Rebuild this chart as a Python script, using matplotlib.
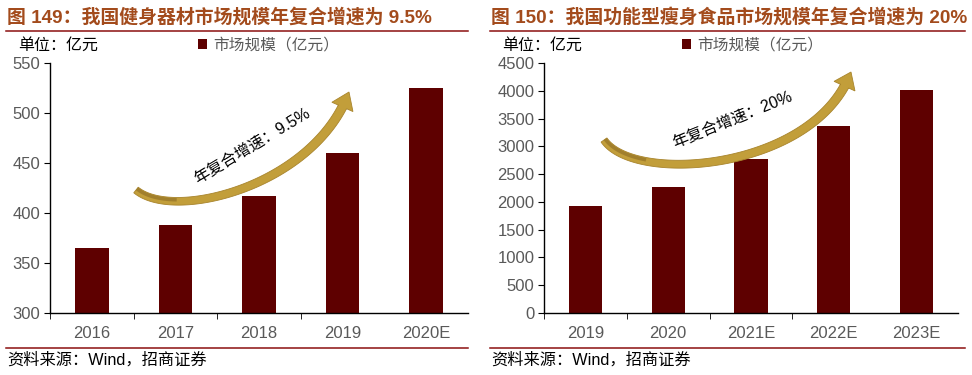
import matplotlib

matplotlib.use("Agg")
from matplotlib import pyplot as plt
from matplotlib.patches import Polygon
import numpy as np

plt.rcParams["font.family"] = ["Liberation Sans", "Noto Sans CJK SC", "DejaVu Sans"]

# data
fitness_years = ["2016", "2017", "2018", "2019", "2020E"]
fitness_size = [365, 388, 417, 460, 525]

diet_years = ["2019", "2020", "2021E", "2022E", "2023E"]
diet_size = [1932, 2274, 2778, 3372, 4020]

W, H = 972, 375
BAR = "#5E0000"
GOLD = "#C29E3A"
GOLD_DARK = "#9C7A2A"
TITLE = "#A34B1C"
RULE = "#8B1010"
GREY = "#595959"

fig = plt.figure(figsize=(W / 100, H / 100), dpi=100)


def fx(px):
    return np.asarray(px) / W


def fy(py):
    return 1 - np.asarray(py) / H


def bezier(pts, t):
    p = np.array(pts, dtype=float)
    t = np.asarray(t)[:, None]
    return ((1 - t) ** 3 * p[0] + 3 * t * (1 - t) ** 2 * p[1]
            + 3 * t ** 2 * (1 - t) * p[2] + t ** 3 * p[3])


def curved_arrow(ctrl, half=4.5, head_half=11.5, head_len=15):
    # work in pixel coords, y pointing down
    pts = bezier(ctrl, np.linspace(0, 1, 200))
    seg = np.hypot(*np.diff(pts, axis=0).T)
    from_end = np.concatenate([np.cumsum(seg[::-1])[::-1], [0]])
    body = pts[from_end >= head_len]
    tip = pts[-1]
    tang = np.gradient(body, axis=0)
    tang /= np.hypot(tang[:, 0], tang[:, 1])[:, None]
    norm = np.column_stack([-tang[:, 1], tang[:, 0]])
    widths = np.linspace(half * 0.8, half, len(body))[:, None]
    left = body + norm * widths
    right = body - norm * widths
    base = body[-1]
    d = (tip - base) / np.hypot(*(tip - base))
    nb = np.array([-d[1], d[0]])
    head = [base + nb * half, base + nb * head_half, tip,
            base - nb * head_half, base - nb * half]
    poly = np.vstack([left, head, right[::-1]])
    fig.add_artist(Polygon(np.column_stack([fx(poly[:, 0]), fy(poly[:, 1])]),
                           closed=True, transform=fig.transFigure,
                           facecolor=GOLD, edgecolor="#A8842C", lw=0.6, zorder=5))
    # darker shading near the tail
    n = len(body) // 4
    shade = body[:n] - norm[:n] * 1.5
    fig.add_artist(plt.Line2D(fx(shade[:, 0]), fy(shade[:, 1]), color=GOLD_DARK,
                              lw=2.5, alpha=0.85, solid_capstyle="butt", zorder=6))


def panel(x0, x1, cats, vals, ylim, yticks, title, rule, legend_x, ctrl, label):
    ax = fig.add_axes([fx(x0), fy(313), fx(x1 - x0), fy(63) - fy(313)])
    x = np.arange(len(cats))
    bars = ax.bar(x, vals, width=0.4, color=BAR, label="市场规模（亿元）", zorder=2)
    ax.set_xlim(-0.5, len(cats) - 0.5)
    ax.set_ylim(*ylim)
    ax.set_yticks(yticks)
    ax.set_xticks(x, labels=cats)
    ax.set_xticks(np.arange(len(cats) - 1) - 0.5, minor=True)
    ax.tick_params(axis="x", which="major", length=0, pad=9, labelsize=12, labelcolor=GREY)
    ax.tick_params(axis="x", which="minor", length=4, direction="out", color="black")
    ax.tick_params(axis="y", length=4, pad=3, labelsize=12, labelcolor=GREY)
    for s in ("top", "right"):
        ax.spines[s].set_visible(False)
    for s in ("left", "bottom"):
        ax.spines[s].set_color("black")
        ax.spines[s].set_linewidth(1.0)

    ax.legend(handles=[bars], loc="center left",
              bbox_to_anchor=(fx(legend_x), fy(45)), bbox_transform=fig.transFigure,
              frameon=False, fontsize=11.3, labelcolor=GREY, borderpad=0,
              borderaxespad=0, handlelength=0.6, handleheight=0.6, handletextpad=0.4)

    fig.text(fx(rule[0] + 1), fy(17), title, fontsize=13.6, fontweight="bold",
             color=TITLE, va="center", ha="left")
    fig.add_artist(plt.Line2D([fx(rule[0]), fx(rule[1])], [fy(31), fy(31)],
                              color=RULE, lw=1.1))
    fig.add_artist(plt.Line2D([fx(rule[0]), fx(rule[1])], [fy(348), fy(348)],
                              color=RULE, lw=1.1))
    fig.text(fx(rule[0] + 1), fy(360), "资料来源：Wind，招商证券", fontsize=11.7,
             color="black", va="center", ha="left")
    fig.text(fx(rule[0] + 12), fy(45), "单位：亿元", fontsize=11.5, color="black",
             va="center", ha="left")

    curved_arrow(ctrl)

    (tx, ty), rot, text = label
    fig.text(fx(tx), fy(ty), text, fontsize=11.5, rotation=rot, rotation_mode="anchor",
             ha="center", va="center", color="black")
    return ax


panel(50, 468, fitness_years, fitness_size, (300, 550), range(300, 551, 50),
      "图 149：我国健身器材市场规模年复合增速为 9.5%", (6, 468), 198,
      [(136, 190), (175, 222), (315, 185), (349, 92)],
      ((252, 146), 31, "年复合增速：9.5%"))

panel(544, 958, diet_years, diet_size, (0, 4500), range(0, 4501, 500),
      "图 150：我国功能型瘦身食品市场规模年复合增速为 20%", (490, 965), 682,
      [(604, 140), (635, 185), (815, 170), (851, 72)],
      ((732, 120), 22, "年复合增速：20%"))

fig.savefig("out.png", dpi=100)
